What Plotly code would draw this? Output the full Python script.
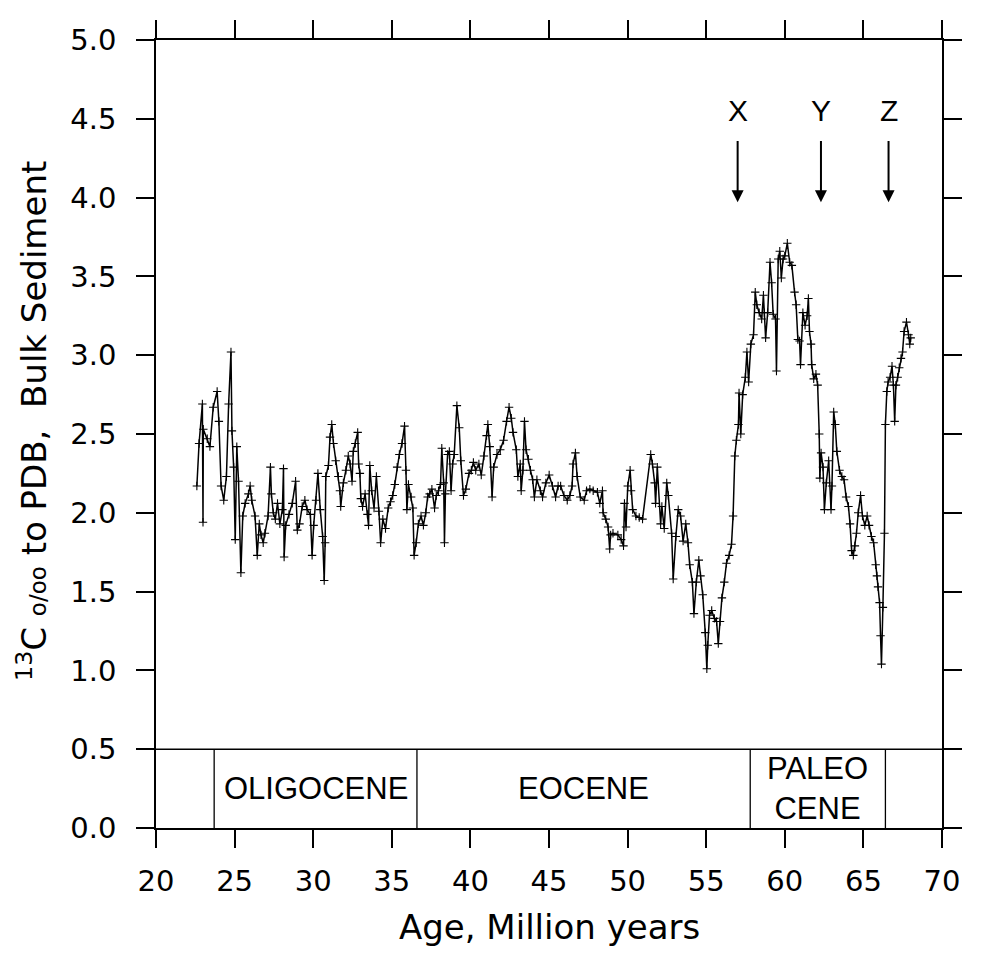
import plotly.graph_objects as go

# ---- data: age (Ma) and d13C (per mil, bulk sediment) ----
age_oligo = [22.60, 22.74, 22.95, 22.99, 23.01, 23.26, 23.43, 23.64, 23.89, 24.00,
             24.14, 24.31, 24.48, 24.62, 24.77, 24.83, 24.94, 25.04, 25.14, 25.25,
             25.40, 25.52, 25.67, 25.88, 25.99, 26.09, 26.30, 26.44, 26.57, 26.68,
             26.82, 26.93, 27.13, 27.28, 27.34, 27.46, 27.59, 27.73, 27.88, 28.04,
             28.11, 28.15, 28.25, 28.46, 28.67, 28.88, 28.99, 29.13, 29.30, 29.47,
             29.61, 29.82, 29.93, 30.03, 30.18, 30.30, 30.45, 30.60, 30.70, 30.76,
             30.80, 30.97, 31.07, 31.18, 31.29, 31.43, 31.60]
d13c_oligo = [2.17, 2.44, 2.69, 1.94, 2.53, 2.47, 2.42, 2.67, 2.77, 2.58,
              2.17, 2.08, 2.23, 2.69, 3.02, 2.52, 2.29, 1.83, 2.42, 2.20,
              1.62, 1.98, 2.06, 2.12, 2.17, 2.08, 1.98, 1.73, 1.93, 1.86,
              1.81, 1.87, 1.98, 2.29, 2.12, 2.00, 1.96, 2.06, 1.93, 2.02,
              2.28, 1.72, 1.92, 1.99, 2.06, 2.20, 1.89, 1.93, 2.04, 2.08,
              2.02, 1.99, 1.73, 1.92, 2.08, 2.25, 2.02, 1.85, 1.57, 1.81,
              2.23, 2.30, 2.48, 2.56, 2.44, 2.33, 2.23]

age_mid = [31.70, 31.75, 31.92, 32.08, 32.23, 32.35, 32.47, 32.55, 32.68, 32.83,
           32.89, 32.97, 33.03, 33.14, 33.30, 33.45, 33.52, 33.60, 33.72, 33.87,
           34.02, 34.18, 34.29, 34.43, 34.60, 34.77, 34.92, 35.06, 35.19, 35.34,
           35.48, 35.65, 35.81, 35.90, 35.96, 36.06, 36.23, 36.34, 36.42, 36.55,
           36.69, 36.86, 37.01, 37.16, 37.28, 37.41, 37.55, 37.72, 37.83, 37.97,
           38.10, 38.18, 38.30, 38.35, 38.41, 38.55, 38.66, 38.77, 38.87, 38.97,
           39.14, 39.29, 39.39, 39.56, 39.71, 39.91, 40.06, 40.19, 40.34, 40.54,
           40.69, 40.86, 41.03, 41.11, 41.23, 41.38]
d13c_mid = [2.14, 2.04, 2.19, 2.27, 2.36, 2.31, 2.20, 2.39, 2.44, 2.51,
            2.31, 2.25, 2.09, 2.04, 2.12, 1.99, 1.92, 2.30, 2.14, 2.03,
            2.23, 2.01, 1.81, 1.96, 1.90, 2.03, 2.07, 2.11, 2.18, 2.29,
            2.37, 2.44, 2.55, 2.27, 2.02, 2.18, 2.10, 2.03, 1.73, 1.81,
            1.93, 1.98, 1.92, 2.00, 2.10, 2.12, 2.15, 2.03, 2.11, 2.14,
            2.18, 2.41, 2.19, 1.81, 2.12, 2.37, 2.39, 2.14, 2.31, 2.37,
            2.68, 2.54, 2.33, 2.11, 2.15, 2.25, 2.27, 2.32, 2.27, 2.31,
            2.24, 2.36, 2.49, 2.56, 2.42, 2.10]

age_eo = [41.48, 41.69, 41.90, 42.11, 42.30, 42.46, 42.60, 42.71, 42.92, 43.02,
          43.17, 43.23, 43.34, 43.44, 43.54, 43.69, 43.82, 43.96, 44.07, 44.23,
          44.45, 44.59, 44.80, 45.01, 45.22, 45.42, 45.58, 45.74, 45.95, 46.16,
          46.33, 46.47, 46.53, 46.68, 46.79, 46.99, 47.24, 47.39, 47.60, 47.81,
          48.08, 48.23, 48.40, 48.44, 48.61, 48.76, 48.86, 48.92, 49.07, 49.38,
          49.59, 49.74, 49.80, 49.90, 50.01, 50.16, 50.22, 50.32, 50.53, 50.74,
          50.95]
d13c_eo = [2.29, 2.37, 2.40, 2.46, 2.58, 2.67, 2.60, 2.51, 2.40, 2.23,
           2.31, 2.14, 2.27, 2.58, 2.40, 2.34, 2.27, 2.21, 2.10, 2.21,
           2.14, 2.10, 2.19, 2.24, 2.17, 2.10, 2.17, 2.17, 2.11, 2.08,
           2.11, 2.17, 2.31, 2.38, 2.23, 2.10, 2.08, 2.14, 2.15, 2.14,
           2.13, 2.06, 2.14, 2.00, 1.96, 1.91, 1.77, 1.86, 1.87, 1.86,
           1.83, 1.79, 2.06, 1.91, 2.17, 2.27, 2.14, 2.02, 1.98, 1.97,
           1.96]

age_pal = [51.47, 51.58, 51.72, 51.78, 51.89, 52.10, 52.18, 52.33, 52.49, 52.59,
           52.80, 52.90, 53.07, 53.22, 53.37, 53.53, 53.70, 53.84, 53.95, 54.12,
           54.22, 54.37, 54.53, 54.64, 54.78, 54.94, 55.04, 55.10, 55.21, 55.35,
           55.52, 55.66, 55.77, 55.88, 56.00, 56.15, 56.29, 56.46, 56.61, 56.71,
           56.82, 56.92, 57.05, 57.09, 57.20, 57.32, 57.49, 57.59, 57.70, 57.84,
           58.01, 58.12, 58.22, 58.37, 58.53, 58.64, 58.70, 58.78, 58.91, 59.06,
           59.16, 59.26, 59.41, 59.47, 59.58, 59.68, 59.78, 59.89, 60.00, 60.16,
           60.31, 60.45, 60.62, 60.72, 60.83, 60.94, 61.00, 61.15, 61.29, 61.42,
           61.50, 61.57, 61.67, 61.71, 61.84, 61.98, 62.09, 62.19, 62.23, 62.31,
           62.43, 62.52, 62.64, 62.79, 62.94, 63.00, 63.11, 63.21, 63.31, 63.48,
           63.63, 63.77, 63.90, 64.05, 64.15, 64.25, 64.36, 64.46, 64.56, 64.67,
           64.82, 64.94, 65.09, 65.24, 65.36, 65.51, 65.65, 65.78, 65.86, 65.93,
           66.03, 66.09, 66.15, 66.24, 66.34, 66.40, 66.49, 66.57, 66.70, 66.82,
           66.91, 66.99, 67.07, 67.18, 67.28, 67.39, 67.49, 67.59, 67.74, 67.87,
           67.95, 68.01]
d13c_pal = [2.37, 2.31, 2.19, 2.06, 2.29, 1.93, 2.04, 1.90, 2.19, 2.11,
            1.87, 1.58, 1.85, 2.02, 1.98, 1.82, 1.93, 1.81, 1.67, 1.56,
            1.36, 1.56, 1.70, 1.60, 1.48, 1.24, 1.01, 1.16, 1.35, 1.38,
            1.33, 1.31, 1.17, 1.31, 1.46, 1.56, 1.68, 1.73, 1.80, 1.98,
            2.36, 2.46, 2.56, 2.76, 2.50, 2.75, 2.86, 3.02, 2.83, 3.07,
            3.13, 3.40, 3.32, 3.27, 3.23, 3.38, 3.27, 3.11, 3.27, 3.59,
            3.46, 3.26, 3.23, 2.90, 3.61, 3.66, 3.49, 3.61, 3.63, 3.71,
            3.59, 3.57, 3.40, 3.32, 3.10, 3.09, 2.94, 3.27, 3.19, 3.25,
            3.36, 3.15, 3.07, 2.94, 2.85, 2.88, 2.81, 2.50, 2.22, 2.38,
            2.29, 2.02, 2.19, 2.33, 2.02, 2.17, 2.64, 2.56, 2.39, 2.27,
            2.23, 2.21, 2.10, 2.04, 1.93, 1.76, 1.73, 1.79, 1.87, 2.00,
            2.11, 1.98, 1.92, 1.98, 1.92, 1.85, 1.81, 1.67, 1.60, 1.53,
            1.43, 1.22, 1.04, 1.40, 1.87, 2.56, 2.77, 2.83, 2.86, 2.93,
            2.81, 2.58, 2.81, 2.86, 2.92, 2.98, 3.02, 3.15, 3.21, 3.13,
            3.07, 3.11]

epoch_names = ["OLIGOCENE", "EOCENE", "PALEO<br>CENE"]
epoch_bounds = [23.7, 36.6, 57.8, 66.4]
event_labels = ["X", "Y", "Z"]
event_ages = [57.0, 62.3, 66.6]
x_ticks = [20, 25, 30, 35, 40, 45, 50, 55, 60, 65, 70]
y_ticks = [0.0, 0.5, 1.0, 1.5, 2.0, 2.5, 3.0, 3.5, 4.0, 4.5, 5.0]

ages = age_oligo + age_mid + age_eo + age_pal
d13c = d13c_oligo + d13c_mid + d13c_eo + d13c_pal
assert len(ages) == len(d13c)

fig = go.Figure()
fig.add_trace(go.Scatter(
    x=ages, y=d13c, mode="lines+markers",
    line=dict(color="black", width=1.5),
    marker=dict(symbol="cross-thin", size=6, line=dict(color="black", width=1.1)),
    showlegend=False, hoverinfo="skip",
))

shapes = []
shapes.append(dict(type="line", xref="x", yref="y", x0=20, x1=70, y0=0.5, y1=0.5,
                   line=dict(color="black", width=1.5)))
for b in epoch_bounds:
    shapes.append(dict(type="line", xref="x", yref="y", x0=b, x1=b, y0=0, y1=0.5,
                       line=dict(color="black", width=1.3)))

annotations = []
for i, name in enumerate(epoch_names):
    annotations.append(dict(x=(epoch_bounds[i] + epoch_bounds[i + 1]) / 2, y=0.25,
                            xref="x", yref="y", text=name, showarrow=False,
                            font=dict(family="Liberation Sans", size=31, color="black")))

for lab, a in zip(event_labels, event_ages):
    annotations.append(dict(x=a, y=3.97, ax=a, ay=4.55, xref="x", yref="y",
                            axref="x", ayref="y", text=lab, showarrow=True,
                            startstandoff=12,
                            arrowhead=2, arrowsize=1.2, arrowwidth=2, arrowcolor="black",
                            font=dict(family="Liberation Sans", size=30, color="black")))

annotations.append(dict(
    x=-0.157, y=2.58, xref="paper", yref="y", textangle=-90, showarrow=False,
    xanchor="center", yanchor="middle",
    text="<sup>13</sup>C <span style='font-size:23px'>o/oo</span> to PDB,  Bulk Sediment",
    font=dict(family="DejaVu Sans", size=34, color="black")))
annotations.append(dict(
    x=0.5, y=-0.125, xref="paper", yref="paper", showarrow=False,
    text="Age, Million years", xanchor="center", yanchor="middle",
    font=dict(family="DejaVu Sans", size=34, color="black")))

fig.update_layout(
    width=966, height=938,
    margin=dict(l=148, r=17, t=24, b=118),
    paper_bgcolor="white", plot_bgcolor="white",
    shapes=shapes, annotations=annotations,
    xaxis=dict(range=[20, 70], tickvals=x_ticks, ticks="outside", ticklen=18,
               tickwidth=1.5, tickcolor="black", showline=True, linecolor="black",
               linewidth=1.5, mirror="ticks", showgrid=False, zeroline=False,
               ticklabelstandoff=8,
               tickfont=dict(family="DejaVu Sans", size=29, color="black")),
    yaxis=dict(range=[0, 5], tickvals=y_ticks, tickformat=".1f", ticks="outside",
               ticklen=18, tickwidth=1.5, tickcolor="black", showline=True,
               linecolor="black", linewidth=1.5, mirror="ticks", showgrid=False,
               zeroline=False, ticklabelstandoff=14,
               tickfont=dict(family="DejaVu Sans", size=29, color="black")),
)

fig.write_html("out.html")
